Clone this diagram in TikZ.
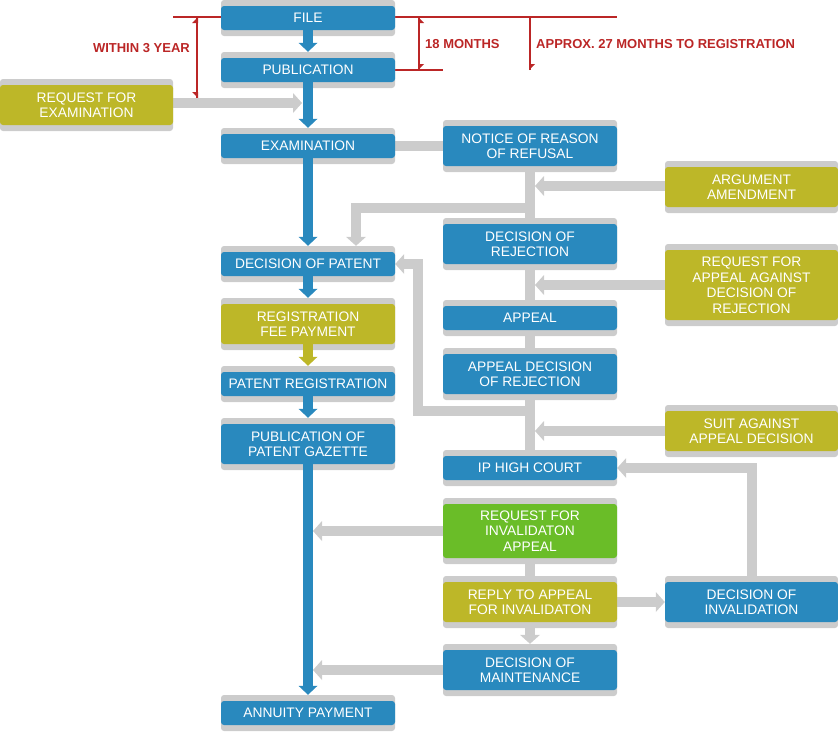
\documentclass[tikz,border=0pt]{standalone}
\usepackage{fontspec}
\setmainfont{Liberation Sans}
\usetikzlibrary{arrows.meta}
\pgfdeclarelayer{bg}
\pgfsetlayers{bg,main}
\definecolor{bblue}{RGB}{41,137,190}
\definecolor{bolive}{RGB}{189,183,40}
\definecolor{bgreen}{RGB}{106,189,40}
\definecolor{fgray}{RGB}{204,204,204}
\definecolor{rred}{RGB}{187,38,38}
\tikzset{
  frame/.style={fill=fgray, rounded corners=3pt, inner sep=0pt, draw=none},
  core/.style={rounded corners=3pt, inner sep=0pt, draw=none, text=white, align=center,
    font=\fontsize{13.8}{15.5}\selectfont},
  garr/.style={draw=fgray, line width=10pt, -{Triangle[width=20pt,length=9pt,line width=0pt]}},
  gline/.style={draw=fgray, line width=10pt},
  barr/.style={draw=bblue, line width=10pt, -{Triangle[width=19pt,length=9pt,line width=0pt]}},
  oarr/.style={draw=bolive, line width=10pt, -{Triangle[width=19pt,length=9pt,line width=0pt]}},
  redl/.style={draw=rred, line width=2pt},
  redt/.style={text=rred, font=\bfseries\fontsize{13}{15}\selectfont, inner sep=0pt},
  barb/.style={fill=rred, draw=none}
}
\newcommand\pbox[7]{%
  \node[frame, minimum width=#4pt, minimum height=#5pt+12pt] (#1) at (#2,#3) {};
  \node[core, fill=#6, minimum width=#4pt, minimum height=#5pt] (#1c) at (#2,#3) {#7};}
\begin{document}
\begin{tikzpicture}[x=1pt,y=-1pt]
\useasboundingbox (0,0) rectangle (838,731);
% left column
\pbox{file}{308}{18}{174}{24}{bblue}{FILE}
\pbox{pub}{308}{70}{174}{24}{bblue}{PUBLICATION}
\pbox{reqexam}{86.5}{105}{173}{40}{bolive}{REQUEST FOR\\EXAMINATION}
\pbox{exam}{308}{146}{174}{24}{bblue}{EXAMINATION}
\pbox{decpat}{308}{264}{174}{24}{bblue}{DECISION OF PATENT}
\pbox{regfee}{308}{324}{174}{40}{bolive}{REGISTRATION\\FEE PAYMENT}
\pbox{patreg}{308}{384}{174}{24}{bblue}{PATENT REGISTRATION}
\pbox{gazette}{308}{444}{174}{40}{bblue}{PUBLICATION OF\\PATENT GAZETTE}
\pbox{annuity}{308}{713}{174}{24}{bblue}{ANNUITY PAYMENT}
% middle column
\pbox{notice}{530}{146}{174}{40}{bblue}{NOTICE OF REASON\\OF REFUSAL}
\pbox{decrej}{530}{244}{174}{40}{bblue}{DECISION OF\\REJECTION}
\pbox{appeal}{530}{318}{174}{24}{bblue}{APPEAL}
\pbox{appdec}{530}{374}{174}{40}{bblue}{APPEAL DECISION\\OF REJECTION}
\pbox{iphigh}{530}{468}{174}{24}{bblue}{IP HIGH COURT}
\pbox{reqinv}{530}{531}{174}{54}{bgreen}{REQUEST FOR\\INVALIDATON\\APPEAL}
\pbox{reply}{530}{602}{174}{40}{bolive}{REPLY TO APPEAL\\FOR INVALIDATON}
\pbox{decmaint}{530}{670}{174}{40}{bblue}{DECISION OF\\MAINTENANCE}
% right column
\pbox{arg}{751.5}{187}{173}{40}{bolive}{ARGUMENT\\AMENDMENT}
\pbox{rapp}{751.5}{285}{173}{70}{bolive}{REQUEST FOR\\APPEAL AGAINST\\DECISION OF\\REJECTION}
\pbox{suit}{751.5}{431}{173}{40}{bolive}{SUIT AGAINST\\APPEAL DECISION}
\pbox{decinv}{751.5}{602}{173}{40}{bblue}{DECISION OF\\INVALIDATION}
% helper coordinates
\coordinate (reqtip) at (302,103);
\coordinate (trunkR) at (535,0);
\coordinate (shaftR) at (313,0);
\coordinate (br1) at (530,207.5);
\coordinate (br1x) at (356,207.5);
\coordinate (br2) at (530,411);
\coordinate (br2x) at (418,411);
\coordinate (rl) at (173,17);
\coordinate (rr) at (617,17);
\coordinate (pubred) at (443,70);
\coordinate (v1t) at (197,17);
\coordinate (v1b) at (197,98);
\coordinate (v2t) at (419,17);
\coordinate (v2b) at (419,70);
\coordinate (v3t) at (530,17);
\coordinate (v3b) at (530,70);
% gray connectors
\begin{pgfonlayer}{bg}
\draw[garr] (reqexamc.east |- reqtip) -- (reqtip);
\draw[gline] (examc.east) -- (noticec.west);
\draw[gline] (noticec.south) -- (iphigh.north);
\draw[garr] (argc.west |- 0,186) -- (trunkR |- 0,186);
\draw[garr] (br1) -- (br1x) -- (decpat.north -| br1x);
\draw[garr] (rappc.west) -- (rappc.west -| trunkR);
\draw[garr] (br2) -- (br2x) -- (br2x |- decpatc.east) -- (decpatc.east);
\draw[garr] (suitc.west) -- (suitc.west -| trunkR);
\draw[garr] (decinv.north) |- (iphighc.east);
\draw[garr] (reqinvc.west) -- (reqinvc.west -| shaftR);
\draw[gline] (reqinvc.south) -- (replyc.north);
\draw[garr] (replyc.east) -- (decinvc.west);
\draw[garr] (replyc.south) -- (decmaint.north);
\draw[garr] (decmaintc.west) -- (decmaintc.west -| shaftR);
% red lines behind file box
\draw[redl] (rl) -- (rl -| file.west);
\draw[redl] (rr -| file.east) -- (rr);
\draw[redl] (pubc.east) -- (pubred);
\end{pgfonlayer}
% blue / olive arrows
\draw[barr] (filec.south) -- (pub.north);
\draw[barr] (pubc.south) -- (exam.north);
\draw[barr] (examc.south) -- (decpat.north);
\draw[barr] (decpatc.south) -- (regfee.north);
\draw[oarr] (regfeec.south) -- (patreg.north);
\draw[barr] (patregc.south) -- (gazette.north);
\draw[barr] (gazettec.south) -- (annuity.north);
% red dimension lines
\draw[redl] (v1t) -- (v1b);
\draw[redl] (v2t) -- (v2b);
\draw[redl] (v3t) -- (v3b);
\fill[barb] (198,17) -- (198,23) -- (192,23) -- cycle;
\fill[barb] (198,98) -- (198,92) -- (192,92) -- cycle;
\fill[barb] (418,17) -- (418,23) -- (424,23) -- cycle;
\fill[barb] (418,70) -- (418,64) -- (424,64) -- cycle;
\fill[barb] (529,70) -- (529,64) -- (535,64) -- cycle;
\node[redt, anchor=east] (t3y) at (190,48) {WITHIN 3 YEAR};
\node[redt, anchor=west] (t18) at (425,44) {18 MONTHS};
\node[redt, anchor=west] (t27) at (536,44) {APPROX. 27 MONTHS TO REGISTRATION};
\end{tikzpicture}
\end{document}
